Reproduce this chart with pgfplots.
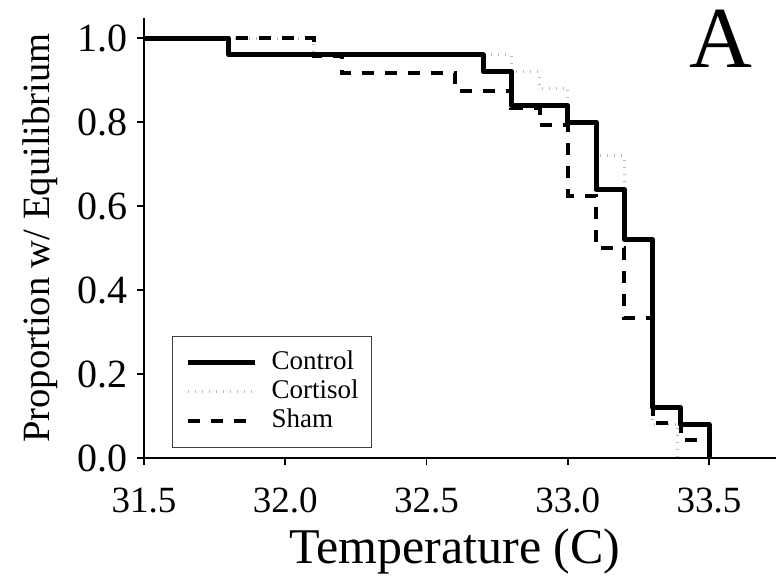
\documentclass[border=0pt]{standalone}
\usepackage{pgfplots}
\pgfplotsset{compat=1.18}
\usepackage{fontspec}
\setmainfont{Liberation Serif}
\begin{document}
\begin{tikzpicture}
\path[use as bounding box] (-72pt,-60.5pt) rectangle (316pt,229pt);
\begin{axis}[
  scale only axis,
  width=316pt, height=220pt,
  xmin=31.5, xmax=33.737,
  ymin=0, ymax=1.048,
  axis x line=bottom, axis y line=left,
  axis line style={line width=1.4pt, -},
  every tick/.style={black, line width=0.8pt},
  tick align=outside,
  major tick length=3.5pt,
  xtick={31.5,32.0,32.5,33.0,33.5},
  ytick={0,0.2,0.4,0.6,0.8,1.0},
  /pgf/number format/.cd, fixed, fixed zerofill, precision=1, assume math mode=true,
  /pgfplots/.cd,
  xticklabel style={font=\fontsize{18.5}{20}\selectfont, yshift=-8pt},
  yticklabel style={font=\fontsize{20}{22}\selectfont, xshift=-1pt},
  every axis y label/.style={at={(axis description cs:-0.1646,0.5)}, rotate=90, anchor=center},
  every axis x label/.style={at={(axis description cs:0.492,-0.212)}, anchor=center},
  xlabel={Temperature (C)},
  ylabel={Proportion w/ Equilibrium},
  xlabel style={font=\fontsize{25}{28}\selectfont},
  ylabel style={font=\fontsize{19.3}{22}\selectfont},
  clip=false,
  legend cell align=left,
  legend image code/.code={\draw[#1] (0pt,0pt) -- (33.5pt,0pt);},
  legend style={at={(0.0443,0.0227)}, anchor=south west, draw=black!75, line width=0.6pt,
    font=\fontsize{13.5}{14.5}\selectfont, inner xsep=6.5pt, inner ysep=6pt,
    column sep=7pt,
    nodes={inner xsep=0pt, inner ysep=1pt, text height=9.5pt, text depth=3pt}},
]
\addlegendimage{black, line width=2.5pt}
\addlegendentry{Control}
\addlegendimage{gray!55, line width=1.5pt, dash pattern=on 0.5pt off 3pt}
\addlegendentry{Cortisol}
\addlegendimage{black, line width=2pt, dash pattern=on 6pt off 5.5pt}
\addlegendentry{Sham}

% Cortisol
\addplot[forget plot, const plot, gray!55, line width=1.5pt, dash pattern=on 0.5pt off 3pt] coordinates {
(31.5,1.0) (32.1,0.96) (32.8,0.92) (32.9,0.88) (33.0,0.80) (33.1,0.72) (33.2,0.52) (33.3,0.08) (33.39,0.0)
};
% Sham
\addplot[forget plot, const plot, black, line width=2pt, dash pattern=on 6pt off 5.5pt] coordinates {
(31.5,1.0) (32.1,0.958) (32.2,0.917) (32.6,0.875) (32.8,0.833) (32.9,0.792) (33.0,0.625) (33.1,0.5) (33.2,0.333) (33.3,0.083) (33.4,0.042) (33.5,0.0)
};
% Control
\addplot[forget plot, const plot, black, line width=2.5pt, line join=round] coordinates {
(31.5,1.0) (31.8,0.96) (32.7,0.92) (32.8,0.84) (33.0,0.80) (33.1,0.64) (33.2,0.52) (33.3,0.12) (33.4,0.08) (33.5,0.0)
};
\node[font=\fontsize{43.5}{46}\selectfont, inner sep=0pt, anchor=center] at (rel axis cs:0.913,0.952) {A};
\end{axis}
\end{tikzpicture}
\end{document}
